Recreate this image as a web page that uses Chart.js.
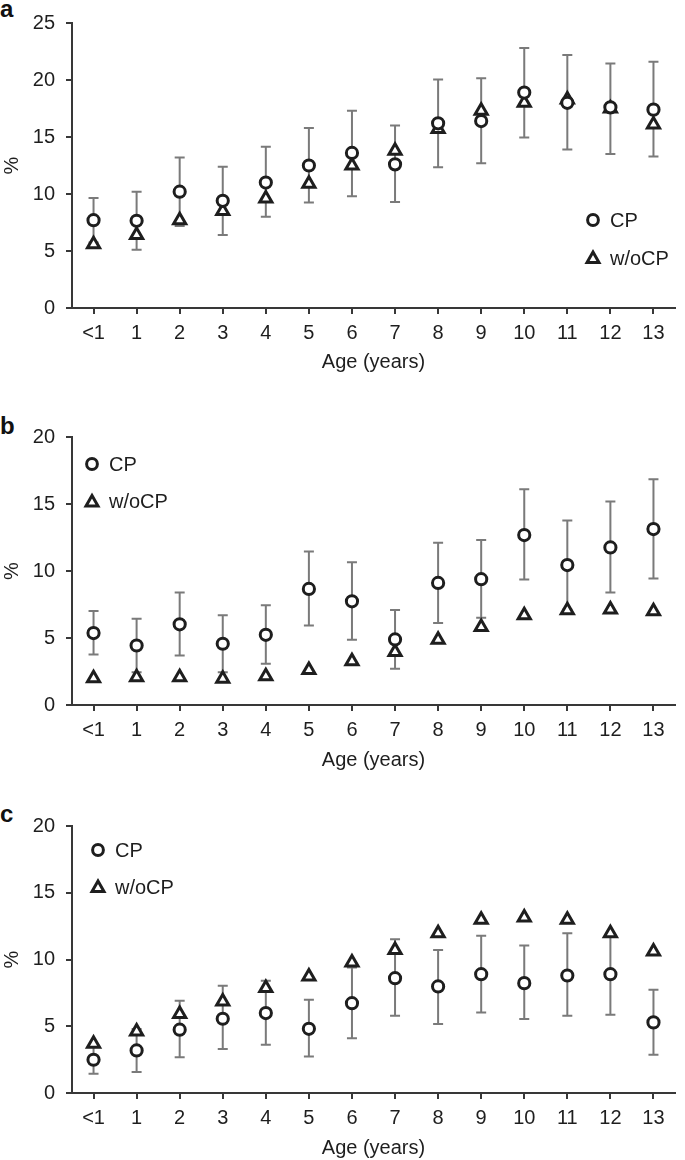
<!DOCTYPE html>
<html>
<head>
<meta charset="utf-8">
<script src="https://cdn.jsdelivr.net/npm/chart.js@4"></script>
<style>
  html, body { margin: 0; padding: 0; background: #fff; }
  body { width: 685px; height: 1160px; position: relative; overflow: hidden; }
  canvas { position: absolute; left: 0; }
  .tag { position: absolute; left: 0; font: bold 24px "Liberation Sans", Arial, sans-serif; line-height: 24px; color: #111; }
</style>
</head>
<body>
<div class="tag" style="top:-3px">a</div>
<div class="tag" style="top:414px">b</div>
<div class="tag" style="top:802px">c</div>
<canvas id="chartA" width="685" height="380" style="top:0"></canvas>
<canvas id="chartB" width="685" height="385" style="top:390px"></canvas>
<canvas id="chartC" width="685" height="385" style="top:775px"></canvas>
<script>
const ages = ['<1', '1', '2', '3', '4', '5', '6', '7', '8', '9', '10', '11', '12', '13']

// panel a
const cpA = [7.7, 7.65, 10.2, 9.4, 11.0, 12.5, 13.6, 12.6, 16.2, 16.4, 18.9, 18.0, 17.6, 17.4]
const woA = [5.6, 6.4, 7.7, 8.5, 9.6, 10.9, 12.5, 13.8, 15.7, 17.3, 18.0, 18.3, 17.5, 16.1]
const hiA = [9.65, 10.2, 13.2, 12.4, 14.15, 15.8, 17.3, 16.0, 20.05, 20.15, 22.8, 22.2, 21.45, 21.6]
const loA = [5.75, 5.1, 7.2, 6.4, 8.0, 9.25, 9.8, 9.3, 12.35, 12.7, 14.95, 13.9, 13.5, 13.3]

// panel b
const cpB = [5.37, 4.44, 6.02, 4.57, 5.24, 8.66, 7.74, 4.89, 9.11, 9.39, 12.68, 10.44, 11.76, 13.13]
const woB = [2.0, 2.07, 2.07, 1.95, 2.15, 2.62, 3.27, 3.95, 4.87, 5.82, 6.69, 7.07, 7.12, 6.99]
const hiB = [7.02, 6.44, 8.39, 6.69, 7.44, 11.46, 10.66, 7.09, 12.11, 12.31, 16.1, 13.76, 15.18, 16.85]
const loB = [3.77, 2.45, 3.7, 2.45, 3.07, 5.94, 4.87, 2.7, 6.12, 6.52, 9.36, 7.12, 8.39, 9.44]

// panel c
const cpC = [2.49, 3.19, 4.74, 5.56, 5.99, 4.81, 6.73, 8.6, 7.98, 8.9, 8.23, 8.8, 8.9, 5.29]
const woC = [3.69, 4.61, 5.91, 6.86, 7.86, 8.73, 9.78, 10.72, 11.97, 12.97, 13.14, 12.97, 11.97, 10.6]
const hiC = [3.55, 4.8, 6.91, 8.03, 8.4, 6.98, 9.4, 11.52, 10.72, 11.77, 11.05, 11.97, 11.9, 7.73]
const loC = [1.45, 1.57, 2.67, 3.29, 3.62, 2.74, 4.11, 5.79, 5.16, 6.03, 5.54, 5.79, 5.86, 2.87]

const seriesNames = ['CP', 'w/oCP']

const FONT = '"Liberation Sans", Arial, sans-serif'
const FSIZE = 20
const INK = '#1e1e1e'
const AXIS = '#383838'

function drawMarker(ctx, style, x, y, r) {
  ctx.beginPath()
  if (style === 'circle') {
    ctx.arc(x, y, r, 0, Math.PI * 2)
  } else {
    for (let k = 0; k < 3; k++) {
      const a = k * 2 * Math.PI / 3
      const px = x + Math.sin(a) * r
      const py = y - Math.cos(a) * r
      k ? ctx.lineTo(px, py) : ctx.moveTo(px, py)
    }
    ctx.closePath()
  }
  ctx.fill()
  ctx.stroke()
}

const errorBars = {
  id: 'errorBars',
  beforeDatasetsDraw(chart, args, opts) {
    const { ctx, scales: { x, y } } = chart
    ctx.save()
    ctx.strokeStyle = '#7a7a7a'
    ctx.lineWidth = 2
    opts.upper.forEach((hi, i) => {
      const px = x.getPixelForValue(i)
      const top = y.getPixelForValue(hi)
      const bot = y.getPixelForValue(opts.lower[i])
      ctx.beginPath()
      ctx.moveTo(px, top); ctx.lineTo(px, bot)
      ctx.moveTo(px - 5, top); ctx.lineTo(px + 5, top)
      ctx.moveTo(px - 5, bot); ctx.lineTo(px + 5, bot)
      ctx.stroke()
    })
    ctx.restore()
  },
}

const sideLegend = {
  id: 'sideLegend',
  afterDatasetsDraw(chart, args, opts) {
    const ctx = chart.ctx
    ctx.save()
    ctx.fillStyle = '#fff'
    ctx.strokeStyle = INK
    ctx.lineWidth = 3
    drawMarker(ctx, 'circle', opts.x, opts.y, 5.4)
    drawMarker(ctx, 'triangle', opts.x, opts.y + opts.gap + 1, 6.9)
    ctx.fillStyle = INK
    ctx.font = FSIZE + 'px ' + FONT
    ctx.textBaseline = 'middle'
    ctx.fillText(seriesNames[0], opts.x + 17, opts.y + 1)
    ctx.fillText(seriesNames[1], opts.x + 17, opts.y + opts.gap + 1)
    ctx.restore()
  },
}

function makeChart(id, cp, wo, hi, lo, yMax, pad, axisH, legend) {
  return new Chart(document.getElementById(id), {
    type: 'line',
    data: {
      labels: ages,
      datasets: [
        {
          label: seriesNames[0], data: cp, showLine: false,
          pointStyle: 'circle', pointRadius: 5.6, pointHoverRadius: 5.6,
          pointBackgroundColor: '#fff', pointBorderColor: INK, pointBorderWidth: 3,
        },
        {
          label: seriesNames[1], data: wo, showLine: false,
          pointStyle: 'triangle', pointRadius: 7, pointHoverRadius: 7,
          pointBackgroundColor: '#fff', pointBorderColor: INK, pointBorderWidth: 3,
        },
      ],
    },
    options: {
      responsive: false,
      animation: false,
      events: [],
      layout: { padding: pad },
      plugins: {
        legend: { display: false },
        tooltip: { enabled: false },
        errorBars: { upper: hi, lower: lo },
        sideLegend: legend,
      },
      scales: {
        x: {
          offset: true,
          afterFit: (s) => { s.height = axisH },
          grid: { drawOnChartArea: false, tickLength: 6, color: AXIS, lineWidth: 2 },
          border: { color: AXIS, width: 2 },
          ticks: { font: { family: FONT, size: FSIZE }, color: INK, padding: 7, maxRotation: 0 },
          title: { display: true, text: 'Age (years)', font: { family: FONT, size: FSIZE }, color: INK, padding: 0 },
        },
        y: {
          min: 0, max: yMax,
          afterFit: (s) => { s.width = 72 },
          grid: { drawOnChartArea: false, tickLength: 6, color: AXIS, lineWidth: 2 },
          border: { color: AXIS, width: 2 },
          ticks: { stepSize: 5, font: { family: FONT, size: FSIZE }, color: INK, padding: 11 },
          title: { display: true, text: '%', font: { family: FONT, size: FSIZE }, color: INK, padding: 0 },
        },
      },
    },
    plugins: [errorBars, sideLegend],
  })
}

makeChart('chartA', cpA, woA, hiA, loA, 25,
  { top: 19, right: 10, bottom: 6, left: 0 }, 66, { x: 593, y: 220, gap: 38 })
makeChart('chartB', cpB, woB, hiB, loB, 20,
  { top: 47, right: 1, bottom: 3, left: 0 }, 67, { x: 92, y: 74, gap: 37.5 })
makeChart('chartC', cpC, woC, hiC, loC, 20,
  { top: 51, right: 1, bottom: 0, left: 0 }, 67, { x: 98, y: 75, gap: 37 })
</script>
</body>
</html>
